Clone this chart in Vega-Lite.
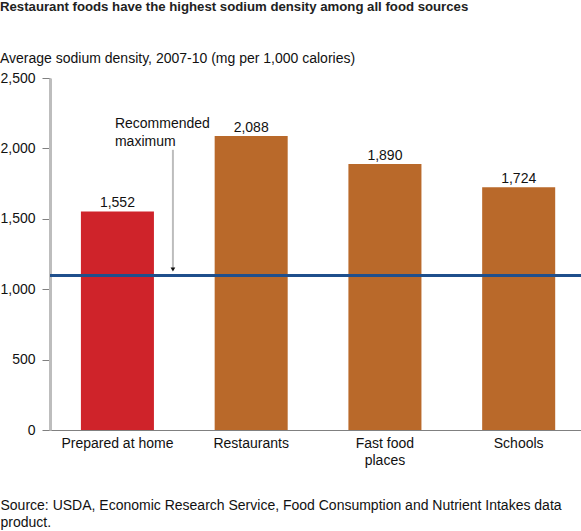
{
  "$schema": "https://vega.github.io/schema/vega-lite/v6.json",
  "width": 531,
  "height": 352,
  "autosize": "none",
  "padding": {"left": 50, "top": 78, "right": 0, "bottom": 101},
  "background": "white",
  "title": {
    "text": "Restaurant foods have the highest sodium density among all food sources",
    "subtitle": "Average sodium density, 2007-10 (mg per 1,000 calories)",
    "anchor": "start",
    "frame": "group",
    "dx": -50,
    "offset": 4,
    "font": "Liberation Sans",
    "fontSize": 13.2,
    "fontWeight": "bold",
    "color": "#222222",
    "subtitleFont": "Liberation Sans",
    "subtitleFontSize": 14,
    "subtitleColor": "#111111",
    "subtitlePadding": 38
  },
  "config": {
    "view": {"stroke": null},
    "text": {"font": "Liberation Sans", "fontSize": 14, "color": "#111111"}
  },
  "datasets": {
    "sodium": [
      {"source": "Prepared at home", "density": 1552, "kind": "home"},
      {"source": "Restaurants", "density": 2088, "kind": "away"},
      {"source": "Fast food places", "density": 1890, "kind": "away"},
      {"source": "Schools", "density": 1724, "kind": "away"}
    ],
    "maximum": [{"source": "Prepared at home", "limit": 1097, "arrowTop": 1990, "arrowEnd": 1140, "note": "Recommended\nmaximum", "noteAt": 2220}]
  },
  "layer": [
    {
      "data": {"name": "sodium"},
      "mark": {"type": "bar"},
      "encoding": {
        "x": {
          "field": "source",
          "type": "nominal",
          "scale": {"domain": ["Prepared at home", "Restaurants", "Fast food places", "Schools"], "paddingInner": 0.454, "paddingOuter": 0.212, "align": 0.545},
          "axis": {
            "title": ["Source: USDA, Economic Research Service, Food Consumption and Nutrient Intakes data", "product."],
            "titleFont": "Liberation Sans",
            "titleFontSize": 14,
            "titleFontWeight": "normal",
            "titleColor": "#111111",
            "titleAlign": "left",
            "titleAnchor": "start",
            "titleBaseline": "top",
            "titleX": -50,
            "titleY": 68,
            "titleLineHeight": 17,
            "labelAngle": 0,
            "labelFont": "Liberation Sans",
            "labelFontSize": 14,
            "labelColor": "#111111",
            "labelPadding": 6,
            "labelLineHeight": 17,
            "labelExpr": "datum.label == 'Fast food places' ? ['Fast food', 'places'] : datum.label",
            "ticks": false,
            "domainColor": "#808080",
            "domainWidth": 1
          }
        },
        "y": {
          "field": "density",
          "type": "quantitative",
          "scale": {"domain": [0, 2500], "nice": false},
          "axis": {
            "title": null,
            "values": [0, 500, 1000, 1500, 2000, 2500],
            "format": ",d",
            "grid": false,
            "labelFont": "Liberation Sans",
            "labelFontSize": 14,
            "labelColor": "#111111",
            "labelPadding": 7,
            "tickSize": 8,
            "tickColor": "#808080",
            "domainColor": "#bdbdbd",
            "domainWidth": 3
          }
        },
        "color": {
          "field": "kind",
          "type": "nominal",
          "legend": null,
          "scale": {"domain": ["home", "away"], "range": ["#cf232a", "#b9692a"]}
        }
      }
    },
    {
      "data": {"name": "sodium"},
      "mark": {"type": "text", "baseline": "bottom", "dy": -1},
      "encoding": {
        "x": {"field": "source", "type": "nominal"},
        "y": {"field": "density", "type": "quantitative"},
        "text": {"field": "density", "type": "quantitative", "format": ","}
      }
    },
    {
      "data": {"name": "maximum"},
      "mark": {"type": "rule", "color": "#1f4f8c", "strokeWidth": 3},
      "encoding": {"y": {"field": "limit", "type": "quantitative"}}
    },
    {
      "data": {"name": "maximum"},
      "mark": {"type": "rule", "color": "#bdbdbd", "strokeWidth": 2},
      "encoding": {
        "x": {"field": "source", "type": "nominal", "bandPosition": 1.26},
        "y": {"field": "arrowTop", "type": "quantitative"},
        "y2": {"field": "arrowEnd"}
      }
    },
    {
      "data": {"name": "maximum"},
      "mark": {"type": "point", "shape": "triangle-down", "filled": true, "color": "#111111", "size": 22, "opacity": 1},
      "encoding": {
        "x": {"field": "source", "type": "nominal", "bandPosition": 1.26},
        "y": {"field": "arrowEnd", "type": "quantitative"}
      }
    },
    {
      "data": {"name": "maximum"},
      "mark": {"type": "text", "align": "left", "baseline": "top", "lineBreak": "\n", "lineHeight": 18},
      "encoding": {
        "x": {"field": "source", "type": "nominal", "bandPosition": 0.466},
        "y": {"field": "noteAt", "type": "quantitative"},
        "text": {"field": "note"}
      }
    }
  ]
}
